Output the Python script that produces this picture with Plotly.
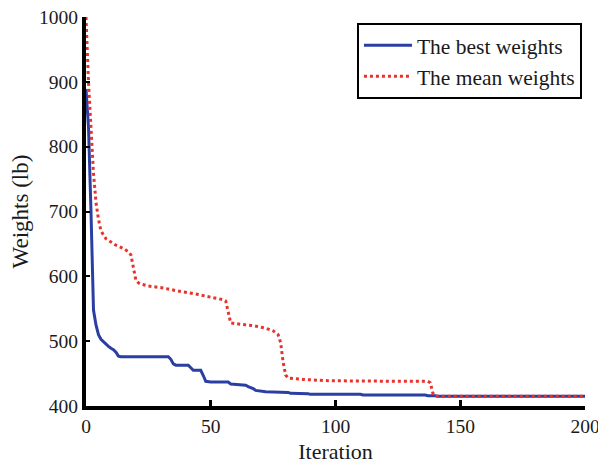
import plotly.graph_objects as go

# Best weights (iteration, value)
best_iter = [0, 1, 2, 3, 4, 5, 6, 7, 8, 9, 10, 11, 12, 13, 14, 33, 34, 35, 36, 41, 42, 43, 44, 46, 47, 48, 50,
             57, 58, 64, 65, 67, 68, 71, 72, 81, 82, 89, 90, 110, 111, 136, 137, 140, 141, 200]
best_vals = [889, 830, 700, 548, 525, 510, 503, 499, 495, 492, 489, 487, 483, 477, 476, 476, 472, 465, 463, 463,
             459, 455, 455, 455, 447, 438, 437, 437, 434, 432, 430, 427, 424, 423, 422, 421, 419.5, 419, 418, 418,
             417, 417, 416, 416, 415, 415]

# Mean weights
mean_iter = [0, 1, 2, 3, 4, 5, 6, 8, 10, 12, 15, 17, 18, 19, 20, 21, 22, 25, 31, 36, 41, 45, 51, 55, 56, 58,
             62, 67, 72, 75, 77, 78, 79, 80, 81, 87, 97, 113, 128, 137, 138, 139, 140, 200]
mean_vals = [1000, 899, 829, 759, 714, 688, 670, 658, 653, 648, 643, 638, 633, 613, 594, 590, 588, 585, 582, 578,
             575, 572, 567, 564, 562, 528, 526, 524, 520, 516, 510, 498, 468, 448, 443, 441, 439, 438, 438, 438,
             436, 420, 415, 415]

x_ticks = [0, 50, 100, 150, 200]
y_ticks = [400, 500, 600, 700, 800, 900, 1000]

fig = go.Figure()
fig.add_trace(go.Scatter(x=best_iter, y=best_vals, mode="lines", name="The best weights",
                         line=dict(color="#2B3FA3", width=3)))
fig.add_trace(go.Scatter(x=mean_iter, y=mean_vals, mode="lines", name="The mean weights",
                         line=dict(color="#E8322C", width=3, dash="dot")))

font = "Liberation Serif, Times New Roman, serif"
# The page body has an 8px margin, so the figure is sized to fill the rest of the window.
fig.update_layout(
    width=598, height=459,
    margin=dict(l=78, r=21, t=9, b=61, autoexpand=False),
    paper_bgcolor="white", plot_bgcolor="white",
    font=dict(family=font, size=19, color="#1a1a1a"),
    showlegend=True,
    legend=dict(x=0.543, y=0.985, xanchor="left", yanchor="top",
                bordercolor="black", borderwidth=2, bgcolor="white",
                font=dict(family=font, size=21.5, color="#1a1a1a"),
                tracegroupgap=0, itemwidth=48),
    xaxis=dict(range=[0, 200], tickvals=x_ticks,
               showline=True, linecolor="black", linewidth=4, mirror=False,
               ticks="inside", ticklen=6, tickwidth=3, tickcolor="black",
               showgrid=False, zeroline=False, automargin=False,
               ticklabeloverflow="allow", tickfont=dict(size=19.5),
               title=dict(text="Iteration", font=dict(size=22), standoff=8)),
    yaxis=dict(range=[400, 1000], tickvals=y_ticks,
               showline=True, linecolor="black", linewidth=4, mirror=False,
               ticks="inside", ticklen=4, tickwidth=2, tickcolor="black",
               showgrid=False, zeroline=False, automargin=False,
               ticklabeloverflow="allow", tickfont=dict(size=19.5),
               title=dict(text="Weights (lb)", font=dict(size=23), standoff=6)),
)

fig.write_html("out.html")
